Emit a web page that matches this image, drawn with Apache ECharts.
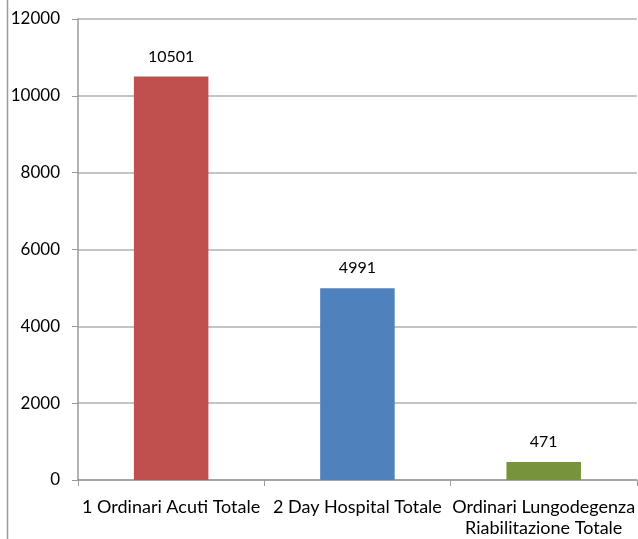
<!DOCTYPE html>
<html>
<head>
<meta charset="utf-8">
<script src="https://cdn.jsdelivr.net/npm/echarts@6/dist/echarts.min.js"></script>
<style>
html,body{margin:0;padding:0;background:#fff;}
#c{width:638px;height:539px;}
</style>
</head>
<body>
<div id="c"></div>
<script>
const categories = ['1 Ordinari Acuti Totale', '2 Day Hospital Totale', 'Ordinari Lungodegenza\nRiabilitazione Totale'];
const values = [10501, 4991, 471];
const barColors = ['#C0504D', '#4F81BD', '#77933C'];
const yTicks = [0, 2000, 4000, 6000, 8000, 10000, 12000];

const chart = echarts.init(document.getElementById('c'));
const font = 'Lato, "Open Sans", sans-serif';
chart.setOption({
  animation: false,
  backgroundColor: '#fff',
  grid: {left: 78, right: 0, top: 19, bottom: 59, containLabel: false},
  graphic: [{
    type: 'line',
    shape: {x1: 7.5, y1: 0, x2: 7.5, y2: 539},
    style: {stroke: '#9a9a9a', lineWidth: 1.5}
  }],
  xAxis: {
    type: 'category',
    data: categories,
    boundaryGap: true,
    axisLine: {lineStyle: {color: '#9a9a9a', width: 1.5}},
    axisTick: {show: true, alignWithLabel: false, length: 6, lineStyle: {color: '#9a9a9a'}},
    axisLabel: {color: '#000', fontSize: 18, fontFamily: font, margin: 17, lineHeight: 21, interval: 0}
  },
  yAxis: {
    type: 'value',
    min: yTicks[0],
    max: yTicks[yTicks.length - 1],
    interval: 2000,
    axisLine: {show: true, lineStyle: {color: '#9a9a9a', width: 1.5}},
    axisTick: {show: true, length: 6, lineStyle: {color: '#9a9a9a'}},
    axisLabel: {color: '#000', fontSize: 17, fontFamily: font, margin: 18, formatter: v => String(v)},
    splitLine: {lineStyle: {color: '#b0b0b0', width: 1.5}}
  },
  series: [{
    type: 'bar',
    data: values.map((v, i) => ({value: v, itemStyle: {color: barColors[i]}})),
    barWidth: '40%',
    label: {show: true, position: 'top', distance: 12, color: '#000', fontSize: 16, fontFamily: font}
  }]
});
</script>
</body>
</html>
